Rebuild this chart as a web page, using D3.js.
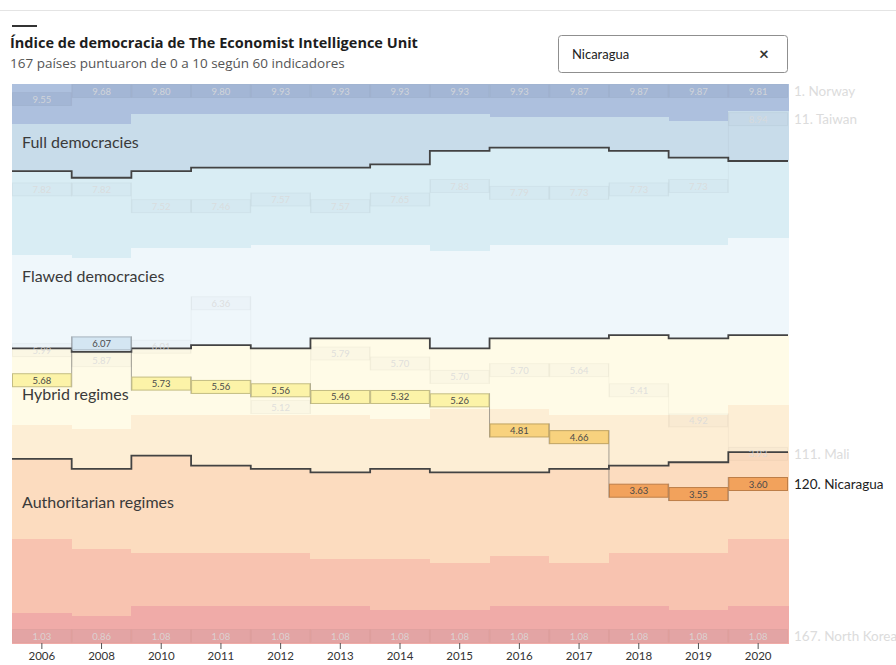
<!DOCTYPE html>
<html>
<head>
<meta charset="utf-8">
<script src="https://cdn.jsdelivr.net/npm/d3@7"></script>
<style>
  body { margin: 0; background: #fff; }
  svg { display: block; font-family: Lato, "Open Sans", sans-serif; }
</style>
</head>
<body>
<svg id="chart" width="896" height="665"></svg>
<script>
const years = ['2006', '2008', '2010', '2011', '2012', '2013', '2014', '2015', '2016', '2017', '2018', '2019', '2020'];

// number of countries scoring at or above each threshold, per year
const atLeast9 = [12, 12, 9, 9, 9, 9, 9, 9, 10, 10, 10, 11, 8];
const atLeast8 = [26, 28, 26, 25, 25, 25, 24, 20, 19, 19, 20, 22, 23];
const atLeast7 = [51, 52, 49, 49, 48, 48, 48, 50, 48, 48, 48, 48, 46];
const atLeast6 = [79, 80, 79, 78, 79, 76, 76, 79, 76, 76, 75, 76, 75];
const atLeast5 = [102, 103, 99, 99, 99, 99, 100, 97, 97, 99, 99, 99, 96];
const atLeast4 = [112, 115, 111, 114, 115, 116, 115, 116, 116, 115, 114, 113, 110];
const atLeast3 = [136, 139, 140, 140, 140, 142, 142, 143, 141, 143, 140, 140, 136];
const atLeast2 = [158, 159, 156, 156, 156, 156, 157, 157, 156, 156, 156, 157, 156];
const totalCountries = 167;

const categoryNames = ['Full democracies', 'Flawed democracies', 'Hybrid regimes', 'Authoritarian regimes'];

// selected country
const nicaraguaScores = [5.68, 6.07, 5.73, 5.56, 5.56, 5.46, 5.32, 5.26, 4.81, 4.66, 3.63, 3.55, 3.60];
const nicaraguaRanks = [89, 78, 90, 91, 92, 94, 94, 95, 104, 106, 122, 123, 120];

// faded reference countries
const norwayScores = [9.55, 9.68, 9.80, 9.80, 9.93, 9.93, 9.93, 9.93, 9.93, 9.87, 9.87, 9.87, 9.81];
const norwayRanks = [5, 1, 1, 1, 1, 1, 1, 1, 1, 1, 1, 1, 1];
const taiwanScores = [7.82, 7.82, 7.52, 7.46, 7.57, 7.57, 7.65, 7.83, 7.79, 7.73, 7.73, 7.73, 8.94];
const taiwanRanks = [32, 32, 37, 37, 35, 37, 35, 31, 33, 33, 32, 31, 11];
const maliScores = [5.99, 5.87, 6.01, 6.36, 5.12, 5.79, 5.70, 5.70, 5.70, 5.64, 5.41, 4.92, 3.93];
const maliRanks = [80, 83, 79, 66, 97, 81, 84, 88, 86, 86, 92, 101, 111];
const northKoreaScores = [1.03, 0.86, 1.08, 1.08, 1.08, 1.08, 1.08, 1.08, 1.08, 1.08, 1.08, 1.08, 1.08];
const northKoreaRanks = [167, 167, 167, 167, 167, 167, 167, 167, 167, 167, 167, 167, 167];

const bandColors = ['#adc0de', '#c8dcea', '#d9edf4', '#eff7fb', '#fffbe7', '#fdeed5', '#fcdcbf', '#f8c3b0', '#f0aba8'];

const svg = d3.select('#chart');
const plot = { top: 84, bottom: 643, left: 12, right: 788 };

const x = d3.scaleBand().domain(years).range([plot.left, plot.right]);
const y = d3.scaleLinear().domain([0, totalCountries]).range([plot.top, plot.bottom]);
const bw = x.bandwidth();

// top rule of the page
svg.append('line')
  .attr('x1', 0).attr('x2', 896).attr('y1', 10.5).attr('y2', 10.5)
  .attr('stroke', '#e4e4e4');

// title block
svg.append('rect').attr('x', 12).attr('y', 25).attr('width', 25).attr('height', 2).attr('fill', '#333');
svg.append('text')
  .attr('x', 10).attr('y', 48)
  .attr('font-family', '"Open Sans", sans-serif')
  .attr('font-size', 14.5).attr('font-weight', 700).attr('fill', '#1d1d1d')
  .text('Índice de democracia de The Economist Intelligence Unit');
svg.append('text')
  .attr('x', 10).attr('y', 68)
  .attr('font-family', '"Open Sans", sans-serif')
  .attr('font-size', 13.5).attr('fill', '#555')
  .text('167 países puntuaron de 0 a 10 según 60 indicadores');

// search box
svg.append('rect')
  .attr('x', 558.5).attr('y', 35.5).attr('width', 229).attr('height', 37).attr('rx', 3)
  .attr('fill', '#fff').attr('stroke', '#8f8f8f');
svg.append('text')
  .attr('x', 572).attr('y', 59)
  .attr('font-size', 13).attr('fill', '#222')
  .text('Nicaragua');
svg.append('text')
  .attr('x', 764).attr('y', 60).attr('text-anchor', 'middle')
  .attr('font-size', 17).attr('font-weight', 700).attr('fill', '#333')
  .text('×');

// score bands
const bounds = [years.map(() => 0), atLeast9, atLeast8, atLeast7, atLeast6, atLeast5, atLeast4, atLeast3, atLeast2,
  years.map(() => totalCountries)];
const bandCells = [];
years.forEach((yr, i) => {
  for (let k = 0; k < bandColors.length; k++) {
    bandCells.push({ year: yr, from: bounds[k][i], to: bounds[k + 1][i], color: bandColors[k] });
  }
});
svg.append('g').selectAll('rect')
  .data(bandCells)
  .join('rect')
  .attr('x', d => x(d.year))
  .attr('width', bw + 0.5)
  .attr('y', d => y(d.from))
  .attr('height', d => y(d.to) - y(d.from) + 0.5)
  .attr('fill', d => d.color)
  .attr('shape-rendering', 'crispEdges');

// category labels
const labelY = [148, 282, 400, 508];
svg.append('g').selectAll('text')
  .data(categoryNames)
  .join('text')
  .attr('x', 22)
  .attr('y', (d, i) => labelY[i])
  .attr('font-size', 16)
  .attr('fill', '#3a3a3a')
  .text(d => d);

// category boundaries
const stepLine = d3.line();
[atLeast8, atLeast6, atLeast4].forEach(counts => {
  const pts = [];
  years.forEach((yr, i) => {
    pts.push([x(yr), y(counts[i])]);
    pts.push([x(yr) + bw, y(counts[i])]);
  });
  svg.append('path')
    .attr('d', stepLine(pts))
    .attr('fill', 'none')
    .attr('stroke', '#434343')
    .attr('stroke-width', 1.8);
});

const boxH = 14;
function boxTop(rank) {
  const cy = y(rank - 0.5);
  return Math.max(plot.top, Math.min(plot.bottom - boxH, cy - boxH / 2));
}

function bandColorFor(score) {
  if (score >= 6) return '#d4e6f2';
  if (score >= 5) return '#fcf3a8';
  if (score >= 4) return '#f8d27e';
  return '#f2a25c';
}

// ghost: 0 = selected country, >0 = faded track with that fill strength
function drawTrack(scores, ranks, ghost) {
  const g = svg.append('g');
  const rows = years.map((yr, i) => ({ year: yr, score: scores[i], rank: ranks[i] }));

  const links = rows.slice(1).map((d, i) => {
    const prev = rows[i];
    const t1 = boxTop(prev.rank), t2 = boxTop(d.rank);
    return { x: x(d.year), y1: Math.min(t1, t2), y2: Math.max(t1, t2) + boxH };
  });
  g.selectAll('line')
    .data(links)
    .join('line')
    .attr('x1', d => d.x).attr('x2', d => d.x)
    .attr('y1', d => d.y1).attr('y2', d => d.y2)
    .attr('stroke', ghost ? 'rgba(0,0,0,0.035)' : 'rgba(90,90,90,0.55)')
    .attr('stroke-width', 1);

  g.selectAll('rect')
    .data(rows)
    .join('rect')
    .attr('x', d => x(d.year) + 0.5)
    .attr('width', bw - 1)
    .attr('y', d => boxTop(d.rank) + 0.5)
    .attr('height', boxH - 1)
    .attr('fill', d => ghost ? `rgba(40,60,100,${ghost})` : bandColorFor(d.score))
    .attr('stroke', d => ghost ? 'rgba(0,0,0,0.035)' : d3.color(bandColorFor(d.score)).darker(0.7))
    .attr('stroke-width', 1);

  g.selectAll('text')
    .data(rows)
    .join('text')
    .attr('x', d => x(d.year) + bw / 2)
    .attr('y', d => boxTop(d.rank) + boxH / 2 + 3.5)
    .attr('text-anchor', 'middle')
    .attr('font-size', 9.5)
    .attr('fill', ghost ? '#dadada' : '#4a4a4a')
    .attr('fill-opacity', ghost ? 0.85 : 1)
    .text(d => d.score.toFixed(2));
}

drawTrack(norwayScores, norwayRanks, 0.07);
drawTrack(taiwanScores, taiwanRanks, 0.02);
drawTrack(maliScores, maliRanks, 0.02);
drawTrack(northKoreaScores, northKoreaRanks, 0.06);
drawTrack(nicaraguaScores, nicaraguaRanks, 0);

// right-hand country labels, aligned to the latest year
const last = years.length - 1;
const endLabels = [
  { name: 'Norway', rank: norwayRanks[last], ghost: true },
  { name: 'Taiwan', rank: taiwanRanks[last], ghost: true },
  { name: 'Mali', rank: maliRanks[last], ghost: true },
  { name: 'Nicaragua', rank: nicaraguaRanks[last], ghost: false },
  { name: 'North Korea', rank: northKoreaRanks[last], ghost: true }
];
svg.append('g').selectAll('text')
  .data(endLabels)
  .join('text')
  .attr('x', plot.right + 6)
  .attr('y', d => boxTop(d.rank) + boxH / 2 + 5)
  .attr('font-size', 13.5)
  .attr('fill', d => d.ghost ? '#dcdcdc' : '#222')
  .text(d => `${d.rank}. ${d.name}`);

// x axis
const axis = svg.append('g')
  .attr('transform', `translate(0,${plot.bottom})`)
  .call(d3.axisBottom(x).tickSize(6).tickPadding(3));
axis.select('.domain').remove();
axis.selectAll('line').attr('stroke', '#555');
axis.selectAll('text')
  .attr('font-family', 'Lato, "Open Sans", sans-serif')
  .attr('font-size', 11.5)
  .attr('fill', '#333');
</script>
</body>
</html>
